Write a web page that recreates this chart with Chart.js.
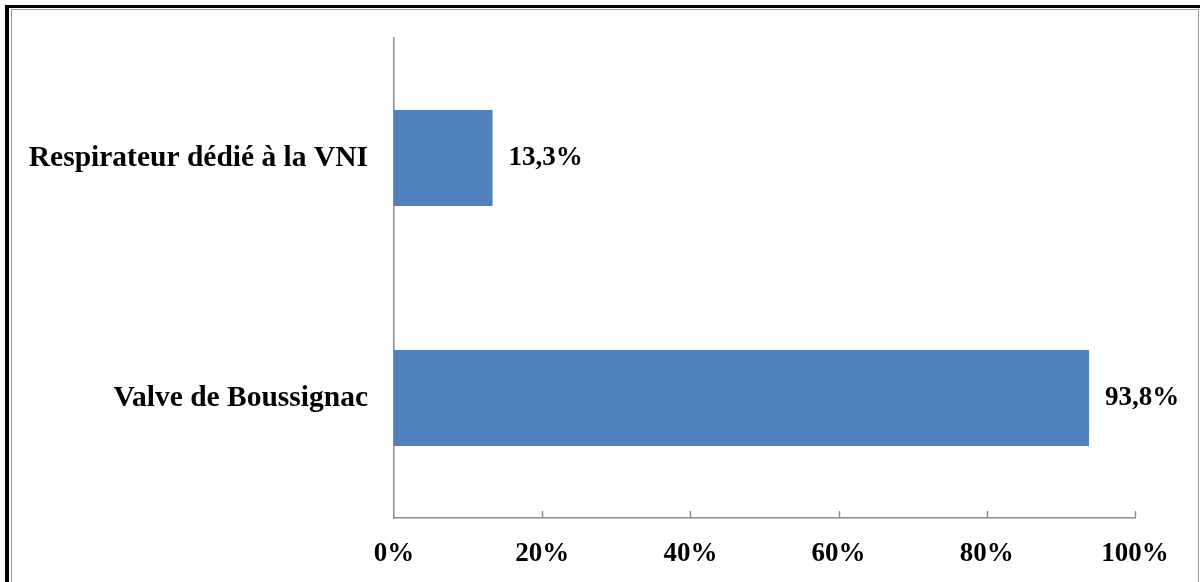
<!DOCTYPE html>
<html>
<head>
<meta charset="utf-8">
<script src="https://cdn.jsdelivr.net/npm/chart.js@4.4.1/dist/chart.umd.min.js"></script>
<style>
  html, body { margin: 0; padding: 0; background: #fff; overflow: hidden; }
  #wrap { position: relative; width: 1200px; height: 582px; }
  #frame1 { position: absolute; left: 5px; top: 5px; width: 1200px; height: 600px;
    border-left: 4px solid #000; border-top: 3px solid #000; pointer-events: none; }
  #frame2 { position: absolute; left: 11px; top: 9px; width: 1186px; height: 600px;
    border-left: 1px solid #9a9a9a; border-top: 1px solid #9a9a9a; border-right: 1px solid #9a9a9a;
    pointer-events: none; }
</style>
</head>
<body>
<div id="wrap">
  <canvas id="chart" width="1200" height="582"></canvas>
  <div id="frame1"></div>
  <div id="frame2"></div>
</div>
<script>
const categories = ["Respirateur dédié à la VNI", "Valve de Boussignac"];
const values = [13.3, 93.8];
const tickValues = [0, 20, 40, 60, 80, 100];

const fontFamily = "'Liberation Serif', 'Times New Roman', serif";

// value labels to the right of each bar, with a decimal comma
const valueLabels = {
  id: "valueLabels",
  afterDatasetsDraw(chart) {
    const ctx = chart.ctx;
    const meta = chart.getDatasetMeta(0);
    ctx.save();
    ctx.font = "bold 27px " + fontFamily;
    ctx.fillStyle = "#000";
    ctx.textAlign = "left";
    ctx.textBaseline = "middle";
    meta.data.forEach((bar, i) => {
      const txt = values[i].toFixed(1).replace(".", ",") + "%";
      ctx.fillText(txt, bar.x + 16, bar.y);
    });
    ctx.restore();
  },
};

// small tick marks pointing up from the x axis
const innerTicks = {
  id: "innerTicks",
  afterDraw(chart) {
    const ctx = chart.ctx;
    const x = chart.scales.x;
    const y0 = chart.chartArea.bottom;
    ctx.save();
    ctx.strokeStyle = "#8c8c8c";
    ctx.lineWidth = 1.5;
    tickValues.slice(1).forEach((v) => {
      const px = Math.round(x.getPixelForValue(v)) + 0.5;
      ctx.beginPath();
      ctx.moveTo(px, y0);
      ctx.lineTo(px, y0 - 7);
      ctx.stroke();
    });
    ctx.restore();
  },
};

new Chart(document.getElementById("chart").getContext("2d"), {
  type: "bar",
  data: {
    labels: categories,
    datasets: [
      {
        data: values,
        backgroundColor: "#4f81bd",
        borderWidth: 0,
        barPercentage: 0.4,
        categoryPercentage: 1,
      },
    ],
  },
  options: {
    indexAxis: "y",
    responsive: false,
    animation: false,
    layout: { padding: { left: 0, right: 65, top: 38, bottom: 0 } },
    plugins: {
      legend: { display: false },
      tooltip: { enabled: false },
    },
    scales: {
      x: {
        min: 0,
        max: 100,
        afterBuildTicks: (axis) => {
          axis.ticks = tickValues.map((v) => ({ value: v }));
        },
        afterFit: (axis) => {
          axis.height = 64;
        },
        ticks: {
          callback: (v) => v + "%",
          color: "#000",
          padding: 20,
          maxRotation: 0,
          font: { family: fontFamily, size: 27, weight: "bold" },
        },
        grid: { display: false, drawTicks: false },
        border: { display: true, color: "#8c8c8c", width: 1.5 },
      },
      y: {
        afterFit: (axis) => {
          axis.width = 394;
          axis.paddingTop = 0;
          axis.paddingBottom = 0;
        },
        ticks: {
          color: "#000",
          padding: 26,
          font: { family: fontFamily, size: 29.5, weight: "bold" },
        },
        grid: { display: false, drawTicks: false },
        border: { display: true, color: "#8c8c8c", width: 1.5 },
      },
    },
  },
  plugins: [valueLabels, innerTicks],
});
</script>
</body>
</html>
